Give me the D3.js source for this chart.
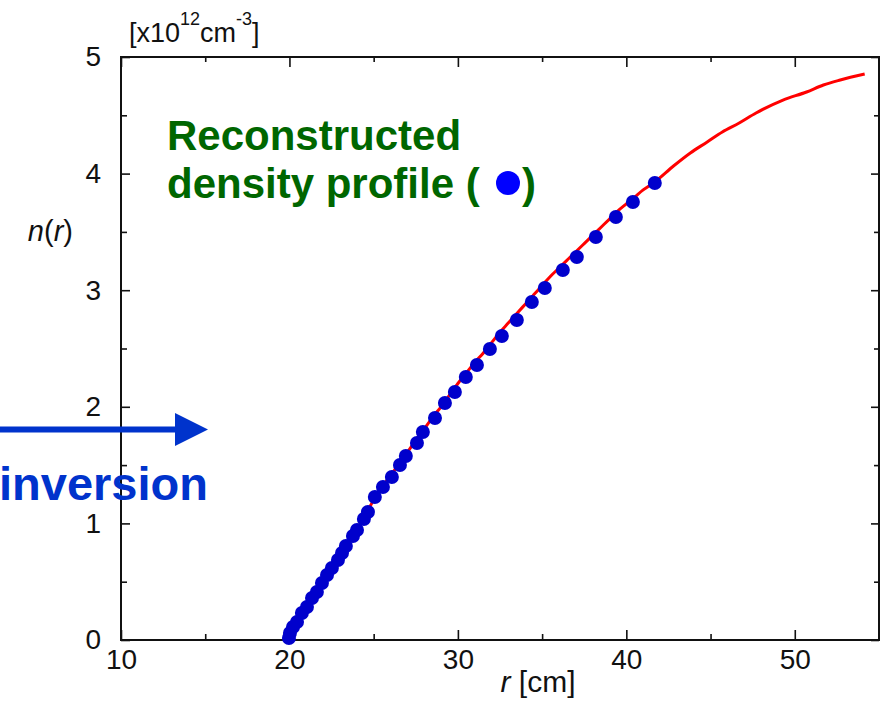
<!DOCTYPE html>
<html>
<head>
<meta charset="utf-8">
<script src="https://cdn.jsdelivr.net/npm/d3@7"></script>
<style>
  html, body { margin: 0; padding: 0; background: #fff; }
  svg { display: block; font-family: Arial, "Liberation Sans", sans-serif; }
</style>
</head>
<body>
<svg id="chart" width="885" height="701"></svg>
<script>
// ---- data ----
const xDomain = [10, 55];
const yDomain = [0, 5];
const xMajorTicks = [10, 20, 30, 40, 50];
const xMinorTicks = [15, 25, 35, 45];
const yMajorTicks = [0, 1, 2, 3, 4, 5];
const yMinorTicks = [0.5, 1.5, 2.5, 3.5, 4.5];

// red curve (original profile): radius [cm], density [x10^12 cm^-3]
const curveR = [19.9, 20.5, 21, 21.5, 22, 22.5, 23, 23.5, 24, 24.5, 25, 25.5, 26, 26.5, 27, 27.5, 28, 28.5, 29, 29.5, 30, 30.5, 31, 31.5, 32, 32.5, 33, 33.5, 34, 34.5, 35, 35.5, 36, 36.5, 37, 37.5, 38, 38.5, 39, 39.5, 40, 40.5, 41, 41.7, 42.8, 43.8, 44.8, 45.7, 46.7, 47.7, 49.3, 50.7, 51.7, 52.7, 54.15];
const curveN = [0.0, 0.16, 0.28, 0.39, 0.5, 0.62, 0.74, 0.84, 0.95, 1.07, 1.2, 1.31, 1.41, 1.51, 1.61, 1.71, 1.81, 1.91, 2.0, 2.1, 2.2, 2.29, 2.38, 2.46, 2.55, 2.64, 2.72, 2.8, 2.88, 2.96, 3.04, 3.12, 3.19, 3.26, 3.33, 3.4, 3.47, 3.54, 3.61, 3.68, 3.74, 3.8, 3.86, 3.93, 4.065, 4.177, 4.271, 4.357, 4.434, 4.52, 4.631, 4.70, 4.76, 4.803, 4.854];

// reconstructed points
const dotR = [19.97, 20.03, 20.21, 20.45, 20.74, 21.04, 21.34, 21.63, 21.93, 22.23, 22.52, 22.88, 23.12, 23.35, 23.77, 24.01, 24.42, 24.66, 25.07, 25.55, 26.08, 26.56, 26.91, 27.57, 27.92, 28.64, 29.23, 29.82, 30.47, 31.13, 31.90, 32.61, 33.50, 34.39, 35.16, 36.23, 37.06, 38.19, 39.38, 40.39, 41.69];
const dotN = [0.017, 0.060, 0.111, 0.154, 0.232, 0.283, 0.360, 0.412, 0.489, 0.557, 0.617, 0.686, 0.746, 0.806, 0.892, 0.943, 1.038, 1.098, 1.226, 1.312, 1.398, 1.501, 1.578, 1.690, 1.784, 1.904, 2.033, 2.127, 2.256, 2.358, 2.496, 2.607, 2.744, 2.899, 3.019, 3.173, 3.285, 3.456, 3.628, 3.756, 3.919];

// ---- layout ----
const svg = d3.select("#chart");
const pLeft = 121, pRight = 879, pTop = 57, pBottom = 640;
const x = d3.scaleLinear().domain(xDomain).range([pLeft, pRight]);
const y = d3.scaleLinear().domain(yDomain).range([pBottom, pTop]);

const axisColor = "#111";
function styleAxis(g) {
  g.select(".domain").remove();
  g.selectAll(".tick line").attr("stroke", axisColor).attr("stroke-width", 1.6);
  g.selectAll(".tick text").attr("fill", "#111").attr("font-size", 28)
    .attr("font-family", "Arial, 'Liberation Sans', sans-serif");
}

// bottom axis
svg.append("g").attr("transform", `translate(0,${pBottom})`)
  .call(d3.axisBottom(x).tickValues(xMajorTicks).tickSize(-10).tickPadding(9).tickFormat(d3.format("d")))
  .call(styleAxis);
svg.append("g").attr("transform", `translate(0,${pBottom})`)
  .call(d3.axisBottom(x).tickValues(xMinorTicks).tickSize(-6).tickFormat(""))
  .call(styleAxis);
// top axis
svg.append("g").attr("transform", `translate(0,${pTop})`)
  .call(d3.axisTop(x).tickValues(xMajorTicks).tickSize(-10).tickFormat(""))
  .call(styleAxis);
svg.append("g").attr("transform", `translate(0,${pTop})`)
  .call(d3.axisTop(x).tickValues(xMinorTicks).tickSize(-5).tickFormat(""))
  .call(styleAxis);
// left axis
svg.append("g").attr("transform", `translate(${pLeft},0)`)
  .call(d3.axisLeft(y).tickValues(yMajorTicks).tickSize(-9).tickPadding(20).tickFormat(d3.format("d")))
  .call(styleAxis);
svg.append("g").attr("transform", `translate(${pLeft},0)`)
  .call(d3.axisLeft(y).tickValues(yMinorTicks).tickSize(-6).tickFormat(""))
  .call(styleAxis);
// right axis
svg.append("g").attr("transform", `translate(${pRight},0)`)
  .call(d3.axisRight(y).tickValues(yMajorTicks).tickSize(-8).tickFormat(""))
  .call(styleAxis);
svg.append("g").attr("transform", `translate(${pRight},0)`)
  .call(d3.axisRight(y).tickValues(yMinorTicks).tickSize(-5).tickFormat(""))
  .call(styleAxis);

// frame
svg.append("rect").attr("x", pLeft).attr("y", pTop)
  .attr("width", pRight - pLeft).attr("height", pBottom - pTop)
  .attr("fill", "none").attr("stroke", axisColor).attr("stroke-width", 2);

// red curve
const curvePts = curveR.map((r, i) => [r, curveN[i]]);
svg.append("path").datum(curvePts)
  .attr("fill", "none").attr("stroke", "#ff0000").attr("stroke-width", 3)
  .attr("d", d3.line().x(d => x(d[0])).y(d => y(d[1])).curve(d3.curveMonotoneX));

// dots
const dotPts = dotR.map((r, i) => [r, dotN[i]]);
svg.append("g").selectAll("circle").data(dotPts).join("circle")
  .attr("cx", d => x(d[0])).attr("cy", d => y(d[1])).attr("r", 7)
  .attr("fill", "#0000cc");

// unit label
const unit = svg.append("text").attr("x", 129).attr("y", 42)
  .attr("font-size", 27).attr("fill", "#111");
unit.append("tspan").text("[x10");
unit.append("tspan").attr("font-size", 18).attr("dy", -17).text("12");
unit.append("tspan").attr("dy", 17).text("cm");
unit.append("tspan").attr("font-size", 18).attr("dy", -17).text("-3");
unit.append("tspan").attr("dy", 17).text("]");

// y label n(r)
const yl = svg.append("text").attr("x", 73).attr("y", 241).attr("text-anchor", "end")
  .attr("font-size", 29).attr("fill", "#111");
yl.append("tspan").attr("font-style", "italic").text("n");
yl.append("tspan").text("(");
yl.append("tspan").attr("font-style", "italic").text("r");
yl.append("tspan").text(")");

// x label r [cm]
const xl = svg.append("text").attr("x", 538).attr("y", 692).attr("text-anchor", "middle")
  .attr("font-size", 30).attr("fill", "#111");
xl.append("tspan").attr("font-style", "italic").text("r");
xl.append("tspan").text(" [cm]");

// annotation (green)
const green = "#006600";
svg.append("text").attr("x", 167).attr("y", 150)
  .attr("font-size", 42).attr("font-weight", "bold").attr("fill", green)
  .text("Reconstructed");
svg.append("text").attr("x", 167).attr("y", 198)
  .attr("font-size", 42).attr("font-weight", "bold").attr("fill", green)
  .text("density profile (");
svg.append("circle").attr("cx", 508).attr("cy", 183).attr("r", 12).attr("fill", "#0000ff");
svg.append("text").attr("x", 522).attr("y", 198)
  .attr("font-size", 42).attr("font-weight", "bold").attr("fill", green)
  .text(")");

// arrow + inversion
const blue = "#0033cc";
svg.append("line").attr("x1", 0).attr("y1", 429.5).attr("x2", 180).attr("y2", 429.5)
  .attr("stroke", blue).attr("stroke-width", 6);
svg.append("path").attr("d", "M175,413 L208,429.5 L175,446 Z").attr("fill", blue);
svg.append("text").attr("x", -1).attr("y", 500)
  .attr("font-size", 47).attr("font-weight", "bold").attr("fill", blue)
  .text("inversion");
</script>
</body>
</html>
